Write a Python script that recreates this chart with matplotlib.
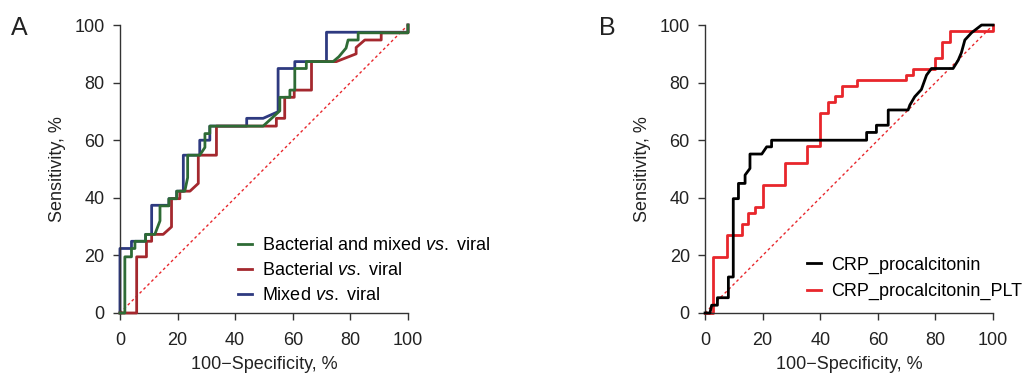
import matplotlib.pyplot as plt

plt.rcParams['font.family'] = ['Liberation Sans', 'DejaVu Sans']
plt.rcParams['mathtext.fontset'] = 'custom'
plt.rcParams['mathtext.rm'] = 'Liberation Sans'
plt.rcParams['mathtext.it'] = 'Liberation Sans:italic'

# Panel A: ROC curves (100-specificity, sensitivity)
mix_bact_x = [0, 1.7, 1.7, 4.0, 4.0, 5.2, 5.2, 8.9, 8.9, 12.1, 13.9, 13.9, 17, 17, 19.7, 19.7,
              22.5, 23.5, 23.5, 27.7, 29.5, 29.5, 31.2, 31.2, 49.7, 55.5, 55.5, 59, 59, 60.7,
              60.7, 64.7, 64.7, 74, 76, 78.5, 79.2, 82.7, 82.7, 100, 100]
mix_bact_y = [0, 0, 19.5, 19.5, 22.4, 22.4, 24.9, 24.9, 27.3, 27.3, 32, 37.2, 37.2, 39.7, 39.7, 42.3,
              42.3, 47, 54.8, 54.8, 57.5, 62.3, 62.3, 64.9, 64.9, 70.2, 74.9, 74.9, 77.4, 77.4,
              84.9, 84.9, 87.3, 87.3, 89, 92, 94.8, 94.8, 97.3, 97.3, 100]

bact_x = [0, 5.8, 5.8, 9.2, 9.2, 11, 11, 15, 17.9, 17.9, 20.8, 20.8, 24.3, 27.2, 27.2, 33.5,
          33.5, 51, 54.3, 54.3, 57.2, 57.2, 60.5, 60.5, 66.5, 66.5, 75.1, 82, 82, 85, 90.7,
          90.7, 100, 100]
bact_y = [0, 0, 19.5, 19.5, 24.9, 24.9, 27.3, 27.3, 29.9, 39.7, 39.7, 42.3, 42.3, 45, 54.8, 54.8,
          64.9, 64.9, 64.9, 67.6, 67.6, 74.9, 74.9, 77.4, 77.4, 87.3, 87.3, 90, 92.2, 94.8, 94.8,
          97.3, 97.3, 100]

mixed_x = [0, 0, 4, 4, 8.9, 8.9, 11, 11, 17, 17, 19.7, 19.7, 22, 22, 27.7, 27.7, 31.2, 31.2,
           44, 44, 49.7, 54.9, 54.9, 60.7, 60.7, 71.7, 71.7, 100, 100]
mixed_y = [0, 22.4, 22.4, 24.9, 24.9, 27.3, 27.3, 37.4, 37.4, 39.7, 39.7, 42.3, 42.3, 54.8, 54.8,
           60, 60, 64.9, 64.9, 67.6, 67.6, 69.9, 84.9, 84.9, 87.3, 87.3, 97.5, 97.5, 100]

# Panel B
crp_pct_x = [0, 1.7, 2.3, 2.3, 4.3, 4.3, 8.1, 8.1, 9.8, 9.8, 11.6, 11.6, 13.9, 13.9, 15.6, 15.6,
             19.7, 21.4, 23.1, 23.1, 56.1, 56.1, 59.5, 59.5, 63.6, 63.6, 70.5, 71.1, 72.8, 75.1,
             76.9, 78.6, 86.1, 87.9, 89, 90.2, 92.5, 96, 100, 100]
crp_pct_y = [0, 0, 2.7, 2.7, 2.7, 5.3, 5.3, 12.5, 12.5, 39.7, 39.7, 45, 45, 47.9, 50.2, 55.2,
             55.2, 57.7, 57.7, 60, 60, 62.7, 62.7, 65.2, 65.2, 70.5, 70.5, 72.2, 75.1, 77.6,
             82.6, 84.9, 84.9, 87.8, 90.4, 94.8, 97.3, 100, 100, 100]

crp_plt_x = [0, 2.7, 2.7, 7.7, 7.7, 12.7, 12.7, 15, 15, 17.3, 17.3, 20.2, 20.2, 27.7, 27.7, 35.3,
             35.3, 39.9, 39.9, 42.8, 42.8, 45.1, 45.1, 47.4, 47.4, 52.6, 52.6, 69.9, 69.9, 72.3,
             72.3, 79.8, 79.8, 82.1, 82.1, 85, 85, 100, 100]
crp_plt_y = [0, 0, 19.5, 19.5, 27.2, 27.2, 31, 31, 34.8, 34.8, 36.8, 36.8, 44.4, 44.4, 52.1, 52.1,
             57.9, 57.9, 69.3, 69.3, 73.3, 73.3, 75.3, 75.3, 78.8, 78.8, 80.9, 80.9, 82.6, 82.6,
             84.6, 84.6, 88.4, 88.4, 94.2, 94.2, 98, 98, 100]

ticks = [0, 20, 40, 60, 80, 100]

fig = plt.figure(figsize=(10.35, 3.73), dpi=100)
axA = fig.add_axes([0.1159, 0.1609, 0.2783, 0.772])
axB = fig.add_axes([0.6812, 0.1609, 0.2783, 0.772])


def style(ax):
    ax.set_xlim(0, 100)
    ax.set_ylim(0, 100)
    ax.set_xticks(ticks)
    ax.set_yticks(ticks)
    for s in ['top', 'right']:
        ax.spines[s].set_visible(False)
    for s in ['left', 'bottom']:
        ax.spines[s].set_color('#333333')
        ax.spines[s].set_linewidth(1.0)
    ax.tick_params(length=5, width=1.0, color='#333333', labelsize=13, labelcolor='#222222')
    ax.tick_params(axis='x', pad=9)
    ax.tick_params(axis='y', pad=6)
    ax.set_xlabel('100\u2212Specificity, %', fontsize=13, color='#222222', labelpad=5)
    ax.set_ylabel('Sensitivity, %', fontsize=13, color='#222222', labelpad=6)
    ax.plot([0, 100], [0, 100], color='#e8262b', lw=1.0, ls=(0, (2, 2)), clip_on=False, zorder=1)


style(axA)
axA.plot(mixed_x, mixed_y, color='#2e3a80', lw=2, clip_on=False, label='Mixed $\\it{vs.}$ viral', zorder=2)
axA.plot(bact_x, bact_y, color='#a4282e', lw=2, clip_on=False, label='Bacterial $\\it{vs.}$ viral', zorder=3)
axA.plot(mix_bact_x, mix_bact_y, color='#2e6b35', lw=2, clip_on=False,
         label='Bacterial and mixed $\\it{vs.}$ viral', zorder=4)
h, l = axA.get_legend_handles_labels()
axA.legend(h[::-1], l[::-1], loc='lower left', bbox_to_anchor=(0.41, 0.03), frameon=False,
           fontsize=13, handlelength=0.75, handletextpad=0.55, labelspacing=0.45,
           borderaxespad=0, borderpad=0)

style(axB)
axB.plot(crp_pct_x, crp_pct_y, color='black', lw=2, clip_on=False, label='CRP_procalcitonin', zorder=3)
axB.plot(crp_plt_x, crp_plt_y, color='#e8262b', lw=2, clip_on=False, label='CRP_procalcitonin_PLT', zorder=2)
axB.legend(loc='lower left', bbox_to_anchor=(0.355, 0.045), frameon=False,
           fontsize=13, handlelength=0.75, handletextpad=0.55, labelspacing=0.5,
           borderaxespad=0, borderpad=0)

fig.text(0.011, 0.905, 'A', fontsize=18, color='#222222')
fig.text(0.579, 0.905, 'B', fontsize=18, color='#222222')

fig.savefig('out.png', dpi=100)
